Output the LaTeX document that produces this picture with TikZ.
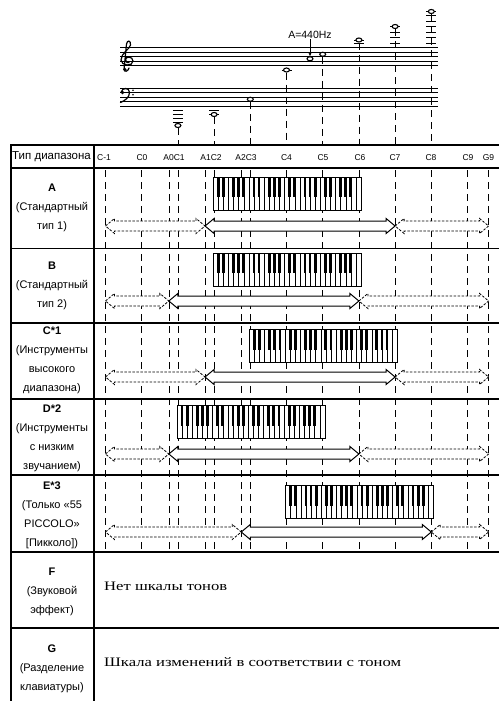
\documentclass[tikz,border=0pt]{standalone}
\usepackage{graphicx}
\usepackage{fontspec}
\setmainfont{Liberation Serif}
\setsansfont{Liberation Sans}
\usetikzlibrary{arrows.meta}
\usetikzlibrary{shapes.geometric}

\newcommand\kw{5.1}
\newcommand\kh{33}

% keyboard of four octaves, left top corner at (#1,#2)
\newcommand\keyboard[2]{%
  \begin{scope}[shift={(#1,#2)}]
    \draw[line width=0.6pt, fill=white] (0,0) rectangle (29*\kw,\kh);
    \foreach \kk in {1,...,28}
      \draw[line width=0.4pt] (\kk*\kw,0) -- (\kk*\kw,\kh);
    \foreach \oct in {0,...,3}
      \foreach \bk in {1,2,4,5,6}
        \fill (\oct*7*\kw+\bk*\kw-1.4,0) rectangle +(2.8,0.62*\kh);
  \end{scope}}

% range arrow with a tip at both ends, from x=#2 to x=#3 at height #4
\newcommand\rangearrow[4][]{%
  \draw[#1] (#2,#4) -- (#2+9,#4-7.5) -- (#2+9,#4-5) -- (#3-9,#4-5)
    -- (#3-9,#4-7.5) -- (#3,#4) -- (#3-9,#4+7.5) -- (#3-9,#4+5)
    -- (#2+9,#4+5) -- (#2+9,#4+7.5) -- cycle;}

\begin{document}
\begin{tikzpicture}[x=1pt, y=-1pt,
  every node/.style={font=\sffamily\fontsize{11}{19}\selectfont, inner sep=0pt},
  rowlabel/.style={align=center},
  collabel/.style={font=\sffamily\fontsize{8.5}{9}\selectfont},
  vline/.style={dash pattern=on 7pt off 5pt, line width=0.7pt},
  staffline/.style={line width=0.6pt},
  ledger/.style={line width=0.7pt},
  clef/.style={line width=1.2pt, line cap=round},
  note/.style={draw, ellipse, fill=white, line width=1.1pt,
               minimum width=6pt, minimum height=4pt},
  solidrange/.style={line width=1pt, fill=white},
  openrange/.style={line width=0.8pt, dash pattern=on 2.5pt off 1.5pt, fill=white},
  rule/.style={line width=1.1pt}]

\useasboundingbox (0,0) rectangle (499,701);

% staves
\foreach \y in {47.5,52,56.5,61,65.5,88,92.5,97,101.5,106}
  \draw[staffline] (120,\y) -- (438,\y);

% treble clef
\draw[clef] (129,68) .. controls (128,72) and (124,72) .. (124,69.5)
  -- (126.5,44)
  .. controls (127,40) and (131,40) .. (130.5,45)
  .. controls (130,49) and (121,53) .. (121,60)
  .. controls (121,66) and (133,67) .. (133,61)
  .. controls (133,56) and (125,56) .. (125.5,60)
  .. controls (126,63) and (128,63) .. (129,62.5);
\fill (124.8,69.5) circle (1.7);
% bass clef
\fill (122.5,92.5) circle (1.9);
\draw[clef] (121.2,92) .. controls (122,87.5) and (129.5,87) .. (129.5,92.5)
  .. controls (129.5,97.5) and (125,100.5) .. (120.5,102.5);
\fill (133,90.3) circle (0.9) (133,94.7) circle (0.9);

\foreach \x/\y in {177.9/110.5, 177.9/114.5, 177.9/118.5, 177.9/122.5,
                   214.1/110.5, 214.1/114.5, 286.5/70,
                   358.9/43, 358.9/40,
                   395.1/43, 395.1/37.5, 395.1/32, 395.1/26.5,
                   431.3/43, 431.3/37.5, 431.3/32, 431.3/26.5, 431.3/21,
                   431.3/15.5, 431.3/11.5}
  \draw[ledger] (\x-5,\y) -- (\x+5,\y);

\foreach \n/\x/\y in {C1/177.9/125.5, C2/214.1/114.5, C3/250.3/99.25,
                      C4/286.5/70, A4/310/58.75, C5/322.7/54.25,
                      C6/358.9/40, C7/395.1/26.5, C8/431.3/11.5}
  \node[note] (n\n) at (\x,\y) {};

\coordinate (tabtop) at (0,145);
\foreach \n in {C1,C2,C3,C4,C5,C6,C7,C8}
  \draw[vline] (n\n.south) -- (n\n |- tabtop);

\node[font=\sffamily\fontsize{10.5}{12}\selectfont] (hz) at (310,35) {A=440Hz};
\draw[-{Stealth[length=4pt,width=3.5pt]}, line width=0.7pt]
  (hz.south -| nA4) -- (nA4.north);

% table
\draw[line width=2.4pt] (10,145) -- (499,145);
\draw[line width=1.8pt] (10,168) -- (499,168);
\foreach \y in {248.5,323,399,475,552,628}
  \draw[rule] (10,\y) -- (499,\y);
\draw[line width=2.4pt] (11,144) -- (11,701);
\draw[line width=2pt] (94,144) -- (94,701);

\node[anchor=west, font=\sffamily\fontsize{11.5}{12}\selectfont] (head) at (12,157) {Тип диапазона};
\foreach \x/\t [count=\i] in {104/C-1, 142/C0, 174/A0C1, 211/A1C2, 246/A2C3,
                              286.5/C4, 323/C5, 360/C6, 395/C7, 431/C8,
                              468/C9, 488.5/G9}
  \node[collabel] (col\i) at (\x,157.5) {\t};

\foreach \x in {105.5,141.7,168.85,177.9,205.05,214.1,241.25,250.3,
                286.5,322.7,358.9,395.1,431.3,467.5,488.6}
  \draw[vline] (\x,170) -- (\x,552);

% ranges
\foreach \kx/\ky/\ay/\l/\r in {213.1/177/226/205.05/395.1,
                               213.1/253/301/168.85/358.9,
                               249.3/329.5/377/205.05/395.1,
                               176.9/405.5/454/168.85/358.9,
                               285.5/485.5/532/241.25/431.3} {
  \keyboard{\kx}{\ky}
  \rangearrow[openrange]{105.5}{\l}{\ay}
  \rangearrow[solidrange]{\l}{\r}{\ay}
  \rangearrow[openrange]{\r}{488.6}{\ay}
}

\node[rowlabel] (rowA) at (52,208) {\textbf{A}\\(Стандартный\\тип 1)};
\node[rowlabel] (rowB) at (52,286) {\textbf{B}\\(Стандартный\\тип 2)};
\node[rowlabel] (rowC) at (52,360.5) {\textbf{C*1}\\(Инструменты\\высокого\\диапазона)};
\node[rowlabel] (rowD) at (52,438.5) {\textbf{D*2}\\(Инструменты\\с низким\\звучанием)};
\node[rowlabel] (rowE) at (52,515) {\textbf{E*3}\\(Только «55\\PICCOLO»\\{}[Пикколо])};
\node[rowlabel] (rowF) at (52,592) {\textbf{F}\\(Звуковой\\эффект)};
\node[rowlabel] (rowG) at (52,669) {\textbf{G}\\(Разделение\\клавиатуры)};

\node[anchor=west, font=\rmfamily\fontsize{13}{15}\selectfont] (textF) at (104,586)
  {\scalebox{1.28}[1]{Нет шкалы тонов}};
\node[anchor=west, font=\rmfamily\fontsize{13}{15}\selectfont] (textG) at (104,662)
  {\scalebox{1.28}[1]{Шкала изменений в соответствии с тоном}};
\end{tikzpicture}
\end{document}
